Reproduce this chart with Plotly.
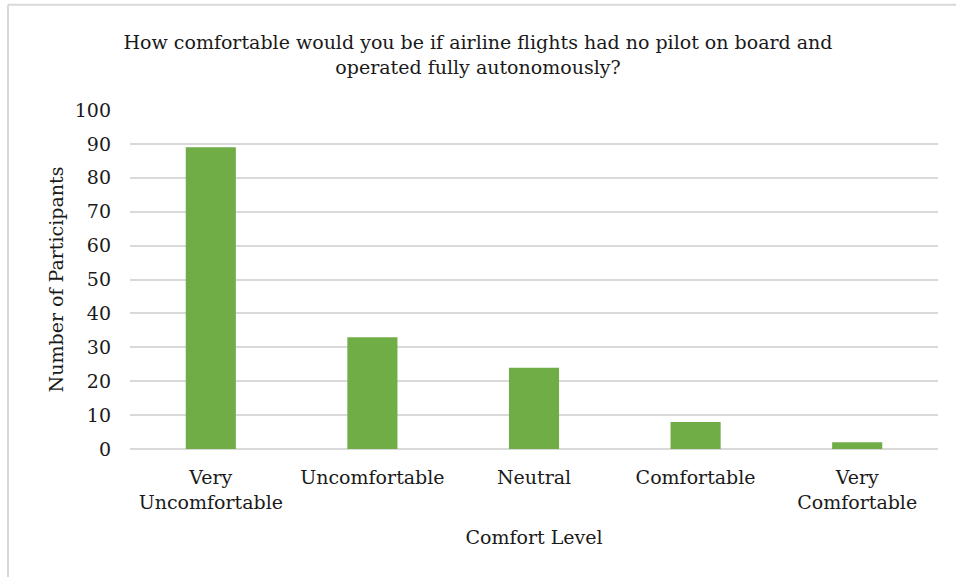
import plotly.graph_objects as go

categories = ["Very<br>Uncomfortable", "Uncomfortable", "Neutral", "Comfortable", "Very<br>Comfortable"]
participants = [89, 33, 24, 8, 2]
y_ticks = [0, 10, 20, 30, 40, 50, 60, 70, 80, 90, 100]

FONT = "DejaVu Serif"
FS = 19
fig = go.Figure(go.Bar(x=categories, y=participants, marker=dict(color="#70ad47", line=dict(width=0))))

fig.update_layout(
    width=956, height=577,
    margin=dict(l=130, r=18, t=110, b=128),
    paper_bgcolor="white", plot_bgcolor="white",
    bargap=0.69,
    font=dict(family=FONT, size=FS, color="#1a1a1a"),
    title=dict(text="How comfortable would you be if airline flights had no pilot on board and<br>operated fully autonomously?",
               x=0.5, xanchor="center", y=1 - 49/577, yanchor="middle", font=dict(family=FONT, size=FS, color="#1a1a1a")),
    showlegend=False,
)
fig.update_yaxes(range=[0, 100], tickvals=y_ticks, showgrid=True, gridcolor="#d9d9d9", gridwidth=1.5,
                 zeroline=True, zerolinecolor="#d9d9d9", zerolinewidth=1.5, showline=False,
                 ticklabelstandoff=18,
                 title=dict(text="Number of Participants", standoff=6, font=dict(size=FS)))
fig.update_xaxes(showline=False, showgrid=False, ticklabelstandoff=15,
                 title=dict(text="Comfort Level", standoff=18, font=dict(size=FS)))

# light chart border (left and top edges)
fig.add_shape(type="line", xref="paper", yref="paper", x0=(8-130)/808, x1=(960-130)/808,
              y0=(448.5-5)/338.5, y1=(448.5-5)/338.5, line=dict(color="#d9d9d9", width=2))
fig.add_shape(type="line", xref="paper", yref="paper", x0=(8-130)/808, x1=(8-130)/808,
              y0=(448.5-5)/338.5, y1=(448.5-600)/338.5, line=dict(color="#d9d9d9", width=2))

fig.write_html("out.html")
